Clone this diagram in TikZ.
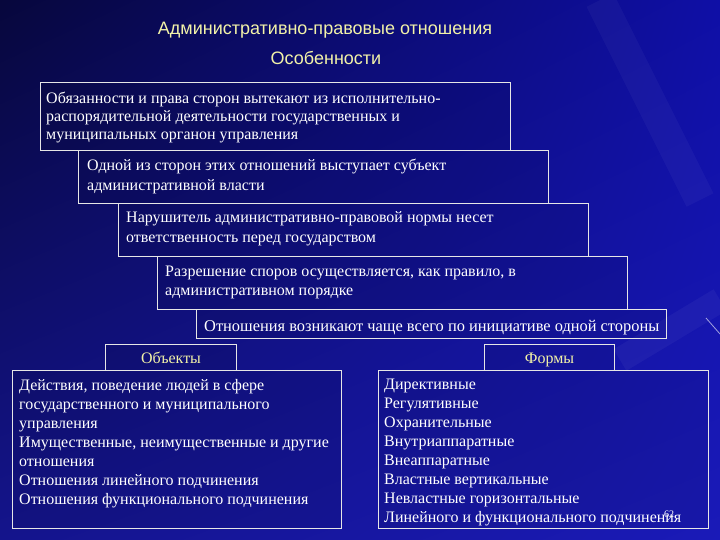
\documentclass[tikz,border=0pt]{standalone}
\usepackage{fontspec}
\setmainfont{Liberation Serif}
\newfontfamily\titlefont{Liberation Sans}
\usetikzlibrary{calc,shadings}
\definecolor{bgA}{HTML}{07073C}
\definecolor{bgB}{HTML}{0F0FA6}
\definecolor{bgC}{HTML}{14148C}
\definecolor{bgD}{HTML}{1A1AB8}
\definecolor{titlecol}{HTML}{F2F2A8}
\definecolor{framecol}{HTML}{E6E6E6}
\tikzset{
  frame/.style={draw=framecol, fill=black, fill opacity=0.08, line width=1pt, rectangle, inner sep=0pt, anchor=north west},
  txt/.style={text=white, font=\fontsize{16}{19}\selectfont, align=left, inner sep=0pt, anchor=north west},
  ttl/.style={text=titlecol, font=\titlefont\fontsize{18}{20}\selectfont, inner sep=0pt, anchor=base},
  hdr/.style={text=titlecol, font=\fontsize{16}{18}\selectfont, inner sep=0pt, anchor=base}
}
\begin{document}
\begin{tikzpicture}[x=1pt,y=1pt]
\useasboundingbox (0,0) rectangle (720,-540);
\shade[upper left=bgA, upper right=bgB, lower left=bgC, lower right=bgD] (0,0) rectangle (720,-540);
\draw[white, opacity=0.035, line width=30pt] (600,0) -- (700,-200);
\draw[white, opacity=0.04, line width=25pt] (620,-360) -- (720,-300);
\draw[white, opacity=0.6, line width=0.8pt] (706,-318) -- (720,-334);

\node[ttl] (title) at (325,-34.5) {Административно-правовые отношения};
\node[ttl] (sub) at (326,-64.5) {Особенности};

\node[frame, minimum width=470pt, minimum height=68pt] (b1) at (40,-82) {};
\node[frame, minimum width=470pt, minimum height=53pt] (b2) at (78,-150) {};
\node[frame, minimum width=470pt, minimum height=53pt] (b3) at (118,-203) {};
\node[frame, minimum width=470pt, minimum height=53pt] (b4) at (157,-256) {};
\node[frame, minimum width=470pt, minimum height=29pt] (b5) at (196,-309) {};

\node[txt, font=\fontsize{16}{18}\selectfont] (t1) at ($(b1.north west)+(6,-9.7)$) {Обязанности и права сторон вытекают из исполнительно-\\распорядительной деятельности государственных и\\муниципальных органон управления};
\node[txt, font=\fontsize{16}{20}\selectfont] (t2) at ($(b2.north west)+(9,-8.7)$) {Одной из сторон этих отношений выступает субъект\\административной власти};
\node[txt, font=\fontsize{16}{20}\selectfont] (t3) at ($(b3.north west)+(8,-8.7)$) {Нарушитель административно-правовой нормы несет\\ответственность перед государством};
\node[txt, font=\fontsize{16}{19}\selectfont] (t4) at ($(b4.north west)+(8,-9.7)$) {Разрешение споров осуществляется, как правило, в\\административном порядке};
\node[txt, font=\fontsize{16.4}{19}\selectfont] (t5) at ($(b5.north west)+(8,-10.7)$) {Отношения возникают чаще всего по инициативе одной стороны};

\node[frame, minimum width=131pt, minimum height=26pt] (ho) at (105,-344) {};
\node[hdr] (hot) at ($(ho.south)+(0,7.5)$) {Объекты};
\node[frame, minimum width=329pt, minimum height=158pt] (bo) at (12,-370) {};
\node[txt] (to) at ($(bo.north west)+(7,-8.7)$) {Действия, поведение людей в сфере\\государственного и муниципального\\управления\\Имущественные, неимущественные и другие\\отношения\\Отношения линейного подчинения\\Отношения функционального подчинения};

\node[frame, minimum width=130pt, minimum height=26pt] (hf) at (484,-344) {};
\node[hdr] (hft) at ($(hf.south)+(0,7.5)$) {Формы};
\node[frame, minimum width=330pt, minimum height=158pt] (bf) at (378,-370) {};
\node[txt] (tf) at ($(bf.north west)+(6,-8.7)$) {Директивные\\Регулятивные\\Охранительные\\Внутриаппаратные\\Внеаппаратные\\Властные вертикальные\\Невластные горизонтальные\\Линейного и функционального подчинения};

\node[text=white, font=\fontsize{10}{10}\selectfont, inner sep=0pt] (pg) at (669,-514) {62};
\end{tikzpicture}
\end{document}
